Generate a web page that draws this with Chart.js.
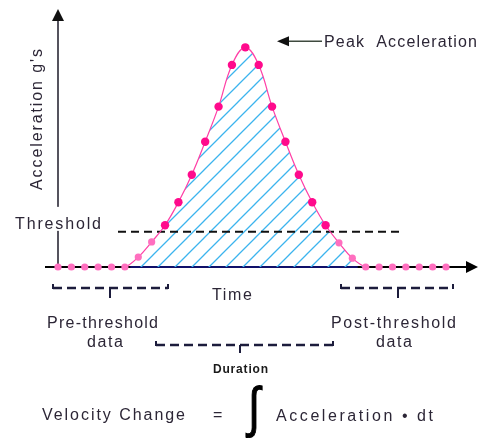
<!DOCTYPE html>
<html>
<head>
<meta charset="utf-8">
<script src="https://cdn.jsdelivr.net/npm/chart.js@4.4.1/dist/chart.umd.min.js"></script>
<style>
  html, body { margin: 0; padding: 0; background: #fff; }
  canvas { display: block; }
</style>
</head>
<body>
<canvas id="grafico" width="479" height="438"></canvas>
<script>
// amostras de tempo (passos) e aceleração (g, pico = 100)
const timeSteps = [0, 1, 2, 3, 4, 5, 6, 7, 8, 9, 10, 11, 12, 13, 14, 15, 16, 17, 18, 19, 20, 21, 22, 23, 24, 25, 26, 27, 28, 29];
const acceleration = [0, 0, 0, 0, 0, 0, 4.5, 11.4, 19, 29.5, 42, 57, 73, 92, 100, 92, 73, 57, 42, 29.5, 19, 11, 4, 0, 0, 0, 0, 0, 0, 0];
const thresholdG = 16;
const axisMaxG = 117;

const textColor = '#2c2636';
const font = 'Liberation Sans, Arial, sans-serif';

// padrão hachurado azul
function hatchPattern(ctx) {
    const tile = document.createElement('canvas');
    tile.width = 17;
    tile.height = 17;
    const g = tile.getContext('2d');
    g.strokeStyle = '#3cb4ee';
    g.lineWidth = 1.3;
    g.beginPath();
    g.moveTo(0, 17); g.lineTo(17, 0);
    g.moveTo(-2, 2); g.lineTo(2, -2);
    g.moveTo(15, 19); g.lineTo(19, 15);
    g.stroke();
    return ctx.createPattern(tile, 'repeat');
}

// escreve o texto esticado entre left e right
function fitText(ctx, text, left, right, baseline, f, color) {
    ctx.font = f;
    ctx.letterSpacing = '0px';
    const w = ctx.measureText(text).width;
    const n = [...text].length;
    const sp = n > 1 ? (right - left - w) / (n - 1) : 0;
    ctx.letterSpacing = sp + 'px';
    ctx.fillStyle = color;
    ctx.textAlign = 'left';
    ctx.textBaseline = 'alphabetic';
    ctx.fillText(text, left, baseline);
    ctx.letterSpacing = '0px';
}

function dashed(ctx, pts, color) {
    ctx.save();
    ctx.strokeStyle = color;
    ctx.lineWidth = 2.5;
    ctx.setLineDash([9, 5]);
    ctx.beginPath();
    ctx.moveTo(pts[0], pts[1]);
    ctx.lineTo(pts[2], pts[3]);
    ctx.stroke();
    ctx.restore();
}

// colchete tracejado com haste no meio
function bracket(ctx, x1, x2, y, stemX, stemY) {
    const c = '#1c1c3c';
    dashed(ctx, [x1, y, x2, y], c);
    ctx.save();
    ctx.strokeStyle = c;
    ctx.lineWidth = 2;
    ctx.beginPath();
    ctx.moveTo(x1, y - 4); ctx.lineTo(x1, y + 1);
    ctx.moveTo(x2, y - 4); ctx.lineTo(x2, y + 1);
    ctx.moveTo(stemX, y); ctx.lineTo(stemX, stemY);
    ctx.stroke();
    ctx.restore();
}

const diagramPlugin = {
    id: 'diagram',
    beforeDatasetsDraw(chart) {
        const ctx = chart.ctx;
        const xs = chart.scales.x, ys = chart.scales.y;
        const x0 = xs.getPixelForValue(0);
        const y0 = ys.getPixelForValue(0);
        const yTop = ys.getPixelForValue(axisMaxG);
        ctx.save();
        // eixo Y
        ctx.strokeStyle = '#55535e';
        ctx.lineWidth = 2;
        ctx.beginPath();
        ctx.moveTo(x0, y0);
        ctx.lineTo(x0, yTop + 10);
        ctx.stroke();
        ctx.fillStyle = '#111';
        ctx.beginPath();
        ctx.moveTo(x0, yTop - 1);
        ctx.lineTo(x0 - 6, yTop + 11);
        ctx.lineTo(x0 + 6, yTop + 11);
        ctx.closePath();
        ctx.fill();
        // eixo X
        ctx.strokeStyle = '#000';
        ctx.lineWidth = 2;
        ctx.beginPath();
        ctx.moveTo(45, y0);
        ctx.lineTo(468, y0);
        ctx.stroke();
        ctx.strokeStyle = '#10106a';
        ctx.beginPath();
        ctx.moveTo(xs.getPixelForValue(5.4), y0);
        ctx.lineTo(xs.getPixelForValue(22.4), y0);
        ctx.stroke();
        ctx.fillStyle = '#000';
        ctx.beginPath();
        ctx.moveTo(478, y0);
        ctx.lineTo(466, y0 - 6);
        ctx.lineTo(466, y0 + 6);
        ctx.closePath();
        ctx.fill();
        ctx.restore();
    },
    beforeDatasetDraw(chart) {
        // linha do limiar por cima da hachura
        const ctx = chart.ctx;
        const yt = chart.scales.y.getPixelForValue(thresholdG);
        ctx.save();
        ctx.strokeStyle = '#111';
        ctx.lineWidth = 2;
        ctx.setLineDash([8, 5]);
        ctx.beginPath();
        ctx.moveTo(118, yt);
        ctx.lineTo(401, yt);
        ctx.stroke();
        ctx.restore();
    },
    afterDraw(chart) {
        const ctx = chart.ctx;
        const xs = chart.scales.x, ys = chart.scales.y;
        const yt = ys.getPixelForValue(thresholdG);
        const yp = ys.getPixelForValue(100);
        const f16 = '16px ' + font;
        ctx.save();

        // rótulo do eixo Y
        ctx.save();
        ctx.translate(42, 190);
        ctx.rotate(-Math.PI / 2);
        fitText(ctx, "Acceleration g's", 0, 141, 0, f16, textColor);
        ctx.restore();

        // Threshold (com fundo branco cortando o eixo)
        ctx.fillStyle = '#fff';
        ctx.fillRect(xs.getPixelForValue(0) - 2, yt - 25, 4, 24);
        fitText(ctx, 'Threshold', 15, 101, yt - 3, f16, textColor);

        // seta do pico
        ctx.strokeStyle = '#3f4a3f';
        ctx.lineWidth = 1.5;
        ctx.beginPath();
        ctx.moveTo(288, yp - 6);
        ctx.lineTo(322, yp - 6);
        ctx.stroke();
        ctx.fillStyle = '#111';
        ctx.beginPath();
        ctx.moveTo(277, yp - 6);
        ctx.lineTo(289, yp - 11);
        ctx.lineTo(289, yp - 1);
        ctx.closePath();
        ctx.fill();
        fitText(ctx, 'Peak  Acceleration', 324, 477, yp, f16, textColor);

        fitText(ctx, 'Time', 212, 252, 300, f16, textColor);

        // colchetes
        bracket(ctx, 53, 168, 288, 110, 298);
        bracket(ctx, 341, 453, 288, 398, 298);
        bracket(ctx, 156, 333, 345, 240, 353);

        fitText(ctx, 'Pre-threshold', 47, 158, 328, f16, textColor);
        fitText(ctx, 'data', 87, 123, 347, f16, textColor);
        fitText(ctx, 'Post-threshold', 331, 456, 328, f16, textColor);
        fitText(ctx, 'data', 376, 412, 347, f16, textColor);
        fitText(ctx, 'Duration', 213, 268, 373, 'bold 12px ' + font, '#1a1a1a');

        // fórmula
        fitText(ctx, 'Velocity Change', 42, 185, 420, f16, textColor);
        fitText(ctx, '=', 213, 222, 420, f16, textColor);
        // sinal de integral, reto e alto
        ctx.save();
        ctx.translate(248, 426);
        ctx.scale(1, 1.25);
        ctx.font = '44px Liberation Sans';
        ctx.fillStyle = '#000';
        ctx.strokeStyle = '#000';
        ctx.lineWidth = 0.8;
        ctx.textAlign = 'left';
        ctx.fillText('\u222B', 0, 0);
        ctx.strokeText('\u222B', 0, 0);
        ctx.restore();
        fitText(ctx, 'Acceleration \u2022 dt', 276, 433, 421, f16, textColor);
        ctx.restore();
    }
};

const ctx = document.getElementById('grafico').getContext('2d');

const pointColors = acceleration.map(v => v > thresholdG ? '#ff0a8c' : '#ff6fbf');
const pointSizes = acceleration.map(v => v > thresholdG ? 4.2 : 3.6);

new Chart(ctx, {
    type: 'line',
    data: {
        datasets: [{
            data: timeSteps.map((t, i) => ({ x: t, y: acceleration[i] })),
            borderColor: '#ff3fa6',
            borderWidth: 1.2,
            tension: 0.4,
            fill: 'origin',
            backgroundColor: hatchPattern(ctx),
            pointRadius: pointSizes,
            pointBackgroundColor: pointColors,
            pointBorderWidth: 0,
            clip: false,
            segment: {
                // no trecho em zero a linha fica escondida pelo eixo
                borderColor: c => (c.p0.parsed.y === 0 && c.p1.parsed.y === 0) ? 'rgba(0,0,0,0)' : undefined
            }
        }]
    },
    options: {
        responsive: false,
        animation: false,
        events: [],
        layout: { padding: { left: 58, right: 33, top: 10, bottom: 171 } },
        scales: {
            x: { type: 'linear', min: 0, max: 29, display: false },
            y: { min: 0, max: axisMaxG, display: false }
        },
        plugins: {
            legend: { display: false },
            tooltip: { enabled: false }
        }
    },
    plugins: [diagramPlugin]
});
</script>
</body>
</html>
